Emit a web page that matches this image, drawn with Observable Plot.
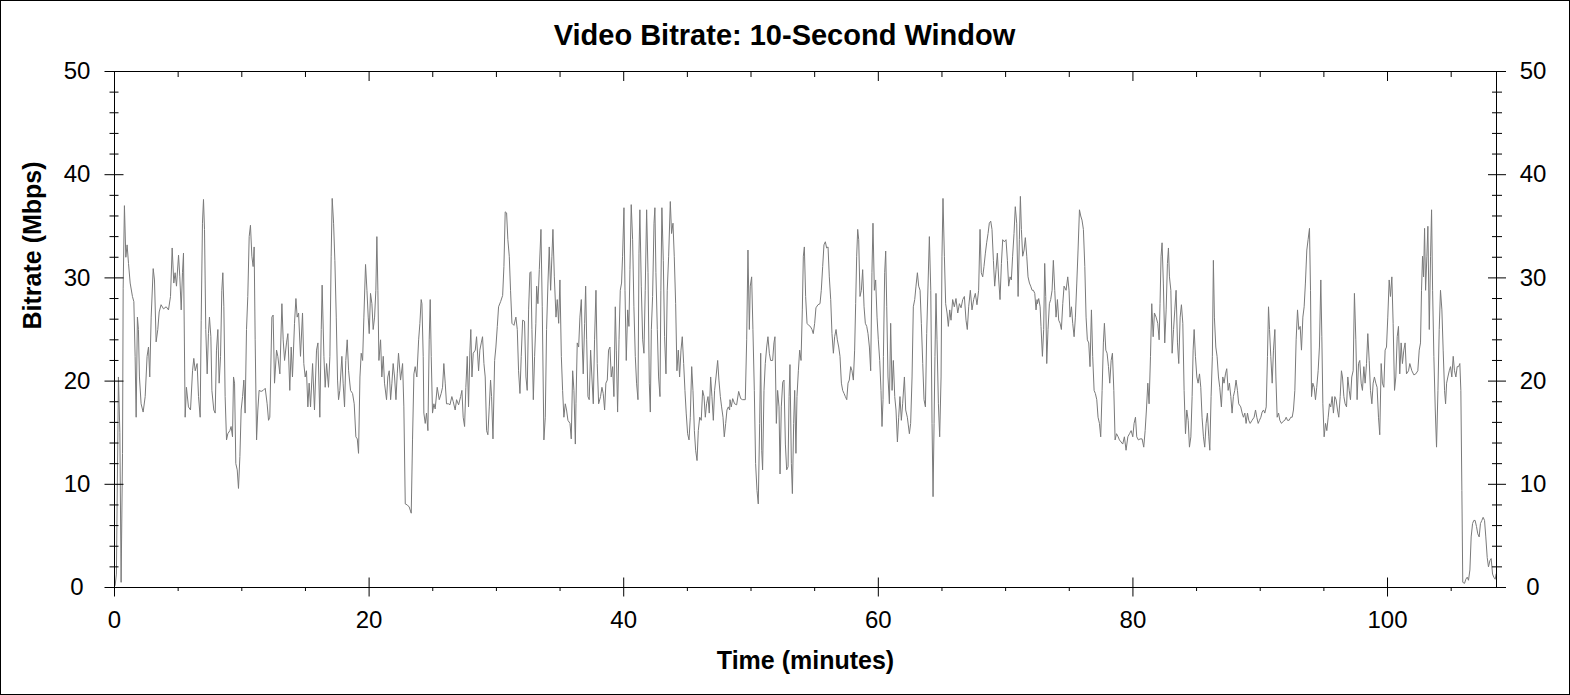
<!DOCTYPE html>
<html><head><meta charset="utf-8">
<script src="https://cdn.jsdelivr.net/npm/d3@7"></script>
<script src="https://cdn.jsdelivr.net/npm/@observablehq/plot@0.6"></script>
<style>
html,body{margin:0;padding:0;background:#fff;}
#frame{width:1570px;height:695px;box-sizing:border-box;border:1px solid #000;overflow:hidden;background:#fff;}
#frame svg{display:block;}
</style></head><body><div id="frame"></div>
<script>
// [minutes, Mbps] samples, in 12-minute blocks
const block1 = [[0.05,0.2],[0.15,1.3],[0.31,20.4],[0.42,15],[0.52,0.5],[0.63,13],[0.68,29],[0.78,37],[0.89,32],[0.99,33.2],[1.10,31.4],[1.23,29.5],[1.41,28.2],[1.52,27.7],[1.62,22.4],[1.70,16.5],[1.80,26.2],[1.88,25],[1.96,20.4],[2.09,17.8],[2.25,17],[2.41,18.5],[2.56,22.4],[2.67,23.3],[2.77,20.4],[2.88,26.2],[3.04,30.9],[3.14,29.8],[3.27,23.8],[3.40,25],[3.51,26.7],[3.66,27.4],[3.85,27],[4.06,27.2],[4.24,26.9],[4.40,28.2],[4.53,32.9],[4.66,29.5],[4.76,30.5],[4.87,29.2],[5.03,32.2],[5.13,30.1],[5.24,26.9],[5.34,30.5],[5.42,32.4],[5.55,16.5],[5.65,19.4],[5.81,17.5],[5.97,17.2],[6.13,21],[6.23,22.2],[6.34,21],[6.49,21.7],[6.60,18.5],[6.73,16.5],[6.81,25.9],[6.91,35.3],[6.99,37.6],[7.07,34.7],[7.17,25],[7.28,20.7],[7.38,24.6],[7.46,26.2],[7.57,24.3],[7.65,19.1],[7.80,17.2],[7.91,16.9],[8.01,23],[8.12,25],[8.22,19.8],[8.33,22.4],[8.43,28.8],[8.51,30.5],[8.59,27.2],[8.69,18.5],[8.80,14.3],[8.90,14.9],[9.06,15.2],[9.16,15.6],[9.27,14.6],[9.35,20.4],[9.43,19.8],[9.53,12],[9.64,11.4],[9.74,9.6],[9.85,12.7],[9.95,17.2],[10.06,18.5],[10.16,20.1],[10.26,16.9],[10.37,25],[10.47,28.2],[10.58,34],[10.68,35.1],[10.79,32.1],[10.89,31.1],[10.97,33],[11.05,24],[11.16,14.3],[11.26,17.2],[11.36,19.1],[11.52,19],[11.68,19.1],[11.84,19.3],[11.99,17.8]];
const block2 = [[12.10,16.2],[12.20,16.5],[12.36,26.2],[12.46,26.4],[12.57,19.8],[12.73,23],[12.83,22.4],[12.99,20.7],[13.15,27.5],[13.25,24],[13.36,22],[13.51,23.7],[13.62,24.6],[13.77,19.1],[13.88,23.3],[13.98,20.4],[14.14,25.6],[14.25,28],[14.35,26.2],[14.46,26.6],[14.61,22.4],[14.77,26.6],[14.87,21.7],[14.98,20.4],[15.08,21],[15.19,17.5],[15.29,19.8],[15.40,17.5],[15.56,21.7],[15.71,17.2],[15.87,23],[15.98,23.7],[16.13,16.5],[16.24,25],[16.31,29.3],[16.45,22.4],[16.55,19.4],[16.66,21.7],[16.81,19.4],[16.92,22.4],[17.02,32.1],[17.10,37.7],[17.21,35.3],[17.31,31.7],[17.42,26.2],[17.52,20.1],[17.60,18.2],[17.70,19.1],[17.86,22.4],[17.96,19.8],[18.07,17.5],[18.17,22],[18.28,24],[18.39,21],[18.54,19.1],[18.70,18.8],[18.83,17.8],[18.96,14.6],[19.07,14.4],[19.17,13],[19.28,20.4],[19.38,22.7],[19.49,22],[19.59,26.2],[19.72,31.3],[19.83,28.8],[19.93,26.2],[20.01,24.6],[20.11,28.5],[20.22,27.5],[20.32,25],[20.43,26.2],[20.53,28.8],[20.61,34],[20.69,28.8],[20.77,22],[20.90,24],[21.00,20.4],[21.11,22.4],[21.21,19.8],[21.37,18.2],[21.47,20.4],[21.58,21],[21.69,18.2],[21.79,19.8],[21.89,21.7],[22.00,20.4],[22.11,18.2],[22.21,20.7],[22.31,22.7],[22.47,20.1],[22.63,21.7],[22.73,17.5],[22.84,8.1],[23.00,8],[23.15,7.8],[23.31,7.2],[23.41,14.3],[23.52,20.7],[23.62,21.4],[23.75,20.4],[23.89,24],[23.99,25.6],[24.09,27.9]];
const block3 = [[24.15,27.5],[24.25,22.4],[24.30,16.9],[24.41,15.9],[24.51,16.9],[24.62,15.2],[24.72,24],[24.80,27.9],[24.88,22.4],[24.98,16.9],[25.09,17.8],[25.19,17.3],[25.35,19.4],[25.51,18.2],[25.66,18.8],[25.77,19.4],[25.87,21.7],[25.98,19.8],[26.08,17.8],[26.24,17.8],[26.35,17.7],[26.50,18.5],[26.61,18],[26.76,17.2],[26.87,18.2],[27.03,17.7],[27.19,18.5],[27.29,19.1],[27.39,16.5],[27.50,15.6],[27.60,19.4],[27.71,22.4],[27.81,17.5],[27.92,23],[27.99,25],[28.08,20.4],[28.18,22.7],[28.34,23],[28.44,24.3],[28.60,21],[28.70,23],[28.81,23.7],[28.91,24.3],[29.02,21.7],[29.12,20.4],[29.23,15.2],[29.33,14.8],[29.44,17.5],[29.54,20.1],[29.62,18.5],[29.73,14.4],[29.86,22],[29.96,23.3],[30.07,25.3],[30.17,27.2],[30.33,27.7],[30.49,28.3],[30.59,31.1],[30.69,36.4],[30.80,36.3],[30.90,33.7],[31.01,32.1],[31.11,28.8],[31.22,25.6],[31.38,25.4],[31.53,26.2],[31.64,25],[31.74,21],[31.85,18.8],[31.95,22.4],[32.06,25.9],[32.21,25.8],[32.32,20.4],[32.42,19.1],[32.53,26.9],[32.63,30.5],[32.71,30.6],[32.79,25],[32.90,18.2],[33.00,22.4],[33.10,25.6],[33.16,29.2],[33.26,27.5],[33.37,30.8],[33.50,34.7],[33.60,27.2],[33.73,14.3],[33.84,16.5],[33.94,25],[34.05,29.5],[34.15,33],[34.26,28.8],[34.36,32.1],[34.44,34.7],[34.55,30.1],[34.68,26.2],[34.78,27.9],[34.89,25.6],[34.99,29.8],[35.10,22.4],[35.20,19.1],[35.30,16.5],[35.41,17.8],[35.51,17.2],[35.62,16.2],[35.78,15.9],[35.88,14.4],[35.99,21],[36.09,19.1],[36.20,13.9]];
const block4 = [[36.25,17.8],[36.35,23.7],[36.46,23.3],[36.56,26.2],[36.67,27.9],[36.75,23.3],[36.82,20.7],[36.93,25.6],[37.01,29.2],[37.09,24],[37.19,18.5],[37.29,18.2],[37.40,23],[37.50,20.4],[37.61,17.8],[37.71,24],[37.82,28.8],[37.92,21.7],[38.03,17.8],[38.18,18.5],[38.29,19.4],[38.39,18.8],[38.50,17.2],[38.60,19.8],[38.71,20.1],[38.81,23],[38.92,23.3],[39.02,20.4],[39.13,21.4],[39.23,18.5],[39.34,27.2],[39.42,23],[39.52,17],[39.63,24],[39.73,28.8],[39.83,29.5],[39.91,32.1],[40.02,36.8],[40.10,28.8],[40.20,22],[40.31,26.9],[40.41,25.3],[40.49,30.8],[40.59,37.1],[40.70,33.7],[40.80,27.2],[40.91,22.4],[41.01,19.8],[41.12,18.2],[41.20,32.4],[41.27,36.6],[41.38,29.2],[41.49,24],[41.59,22.7],[41.69,28.8],[41.80,36.6],[41.91,30.5],[42.01,19.8],[42.09,17],[42.17,25],[42.27,28.2],[42.38,35.3],[42.45,36.8],[42.53,30.5],[42.64,25],[42.74,20.4],[42.85,18.5],[42.92,28.8],[43.00,36.8],[43.11,31.7],[43.21,24.3],[43.32,20.7],[43.42,28.8],[43.53,32.1],[43.66,37.4],[43.76,34.3],[43.87,35.3],[43.97,32.1],[44.08,27.5],[44.18,21],[44.29,23],[44.39,20.4],[44.50,23],[44.60,24.3],[44.71,21.7],[44.81,19.1],[44.91,16.9],[45.02,14.9],[45.13,14.3],[45.23,16.5],[45.34,21.4],[45.44,19.1],[45.55,15.2],[45.65,13.3],[45.76,12.3],[45.86,15.2],[45.97,16.5],[46.09,16.2],[46.20,19.1],[46.31,18.5],[46.41,16.5],[46.51,17.8],[46.62,18.5],[46.72,16.9],[46.83,20.4],[46.93,18.5],[47.04,16.2],[47.14,19.1],[47.25,20.4],[47.38,22],[47.48,20.1],[47.59,18.5],[47.69,17.5],[47.80,16.5],[47.90,14.6],[48.01,15.9],[48.11,17.2],[48.22,17.5],[48.32,17.2]];
const block5 = [[48.35,18.2],[48.45,17.5],[48.56,18.3],[48.71,17.8],[48.87,17.7],[49.03,19],[49.19,18.3],[49.34,18.2],[49.55,18.2],[49.66,24],[49.76,32.7],[49.87,25],[49.94,29.2],[50.05,30.1],[50.15,25],[50.26,19.1],[50.36,12],[50.47,9.4],[50.57,8.1],[50.68,15.9],[50.76,22.7],[50.84,13.3],[50.91,11.4],[51.02,19.1],[51.12,21.7],[51.23,23.3],[51.33,24.3],[51.44,22.7],[51.54,22],[51.70,22],[51.80,23.7],[51.88,24.3],[51.99,15.9],[52.09,19.1],[52.20,17.5],[52.28,11],[52.38,17.5],[52.49,19.9],[52.59,20.1],[52.70,13.9],[52.80,11.4],[52.91,11.7],[52.99,18.5],[53.06,21.6],[53.17,12],[53.25,9.1],[53.35,15.9],[53.43,19.1],[53.53,13],[53.61,18.5],[53.72,21],[53.82,23],[53.93,22],[54.03,26.9],[54.11,32.1],[54.19,33],[54.29,28.2],[54.40,25.6],[54.53,25.4],[54.66,25.3],[54.79,25],[54.89,24.6],[55.00,25.6],[55.10,27.1],[55.26,27.4],[55.42,27.5],[55.52,28.8],[55.63,31.1],[55.73,33.2],[55.84,33.5],[55.94,32.9],[56.05,33],[56.15,30.1],[56.26,27.9],[56.36,24.6],[56.47,22.7],[56.57,24.3],[56.68,25],[56.78,24],[56.89,23.3],[56.99,22.4],[57.10,19.8],[57.20,19.1],[57.31,18.8],[57.41,18.5],[57.52,18.2],[57.62,19.8],[57.72,20.1],[57.83,21.4],[57.93,21],[58.04,20.1],[58.14,23],[58.22,27.5],[58.30,32.1],[58.38,34.7],[58.46,33.7],[58.56,28.2],[58.67,28.8],[58.77,30.8],[58.88,27.2],[58.98,25.6],[59.09,25.3],[59.19,24.6],[59.30,23.3],[59.40,21],[59.50,30.5],[59.58,35.3],[59.69,28.8],[59.79,29.8],[59.90,26.2],[60.00,24],[60.11,22],[60.21,19.1],[60.29,15.6],[60.37,18.2]];
const block6 = [[60.40,22.4],[60.50,30.5],[60.58,32.6],[60.66,27.2],[60.76,20.4],[60.87,17.8],[60.97,25.6],[61.08,19.1],[61.18,22],[61.29,18.5],[61.39,17.2],[61.50,14.1],[61.60,16.5],[61.70,18.5],[61.81,16.2],[61.91,17.8],[62.05,20.4],[62.15,17.2],[62.28,16.5],[62.44,14.9],[62.54,15.9],[62.65,20.4],[62.75,27.2],[62.86,27.9],[62.96,29.2],[63.07,30.5],[63.17,29.2],[63.28,28.8],[63.38,25.6],[63.49,21.7],[63.59,18.2],[63.70,17.5],[63.80,24.6],[63.91,29.5],[64.01,34],[64.12,28.8],[64.22,15.9],[64.30,8.8],[64.38,15.9],[64.45,22.4],[64.53,28.5],[64.61,24],[64.72,17.8],[64.82,14.6],[64.93,20.4],[65.00,32.1],[65.08,37.7],[65.19,32.1],[65.29,27.5],[65.40,26.6],[65.50,25.3],[65.61,26.9],[65.71,25.9],[65.84,27.9],[65.97,27.2],[66.10,28],[66.24,26.6],[66.37,27.5],[66.50,27.1],[66.63,27.9],[66.76,28.2],[66.89,25.9],[66.99,25],[67.10,27.2],[67.23,28.8],[67.36,26.9],[67.49,27.9],[67.62,28.5],[67.75,27.4],[67.88,28.8],[67.99,34.7],[68.09,30.5],[68.20,30.1],[68.30,31.1],[68.41,32.4],[68.51,33.4],[68.62,34.3],[68.72,35.3],[68.83,35.5],[68.93,34.7],[69.04,31.7],[69.14,29.2],[69.25,30.8],[69.35,32.4],[69.46,29.8],[69.56,27.9],[69.67,31.4],[69.77,33.7],[69.90,33.5],[70.03,33.7],[70.14,31.7],[70.24,29.2],[70.35,30.1],[70.45,29.8],[70.55,32.1],[70.66,34.3],[70.76,36.9],[70.87,35.3],[70.98,28.2],[71.08,33.7],[71.16,37.9],[71.24,34.7],[71.34,32.1],[71.45,32.7],[71.55,33.9],[71.66,32.1],[71.76,30.1],[71.87,29.5],[71.97,29.2],[72.08,28.8],[72.18,28.8],[72.29,28.5],[72.39,26.9],[72.47,27.9]];
const block7 = [[72.50,27.5],[72.60,28],[72.71,27.2],[72.78,25.3],[72.89,22.4],[72.99,25],[73.07,31.4],[73.15,28.2],[73.23,21.7],[73.33,25],[73.44,27.5],[73.54,27.9],[73.65,28.8],[73.75,31.7],[73.86,28.8],[73.96,26.2],[74.07,27.9],[74.17,25.9],[74.28,25.6],[74.38,25],[74.49,27.5],[74.59,29.2],[74.75,28.8],[74.88,30.1],[74.98,28.8],[75.06,26.2],[75.17,27.2],[75.27,25.6],[75.38,24.3],[75.48,26.2],[75.59,29.5],[75.69,32.7],[75.80,36.6],[75.90,36],[76.00,35.6],[76.11,34.7],[76.22,31.1],[76.32,26.2],[76.42,24],[76.53,23.7],[76.63,21.4],[76.74,26.9],[76.84,22.4],[76.95,19.1],[77.05,18.8],[77.16,18.2],[77.26,16.5],[77.37,15.9],[77.47,14.6],[77.58,19.1],[77.68,23.7],[77.76,25.6],[77.87,23],[77.97,22.7],[78.08,21.4],[78.18,19.8],[78.29,22],[78.39,22.7],[78.50,19.1],[78.60,14.3],[78.71,14.9],[78.84,14.6],[78.94,14.3],[79.07,14.1],[79.20,13.9],[79.33,14.6],[79.46,13.3],[79.60,14.6],[79.73,14.9],[79.86,15.2],[79.99,14.6],[80.09,15.9],[80.20,16.5],[80.30,14.6],[80.43,14.3],[80.56,14.4],[80.72,14.4],[80.85,13.6],[80.96,15.2],[81.06,17.2],[81.17,19.8],[81.27,17.8],[81.38,22.4],[81.48,27.5],[81.59,24.3],[81.69,26.6],[81.82,26.2],[81.95,25.6],[82.06,24],[82.13,27.5],[82.21,32.1],[82.29,33.4],[82.39,29.5],[82.50,23.7],[82.61,26.9],[82.71,31.4],[82.79,32.9],[82.87,30.1],[82.98,28.8],[83.08,22.7],[83.19,25],[83.29,26.9],[83.39,28.8],[83.50,23.7],[83.60,21.7],[83.71,26.2],[83.81,27.4],[83.92,25.6],[84.02,19.1],[84.13,14.9],[84.23,17.2],[84.34,16.2],[84.44,13.6],[84.55,14.6]];
const block8 = [[84.65,18.5],[84.73,23],[84.81,25],[84.91,22.4],[85.02,20.4],[85.12,19.8],[85.23,20.7],[85.33,19.4],[85.43,16.5],[85.54,14.6],[85.64,13.6],[85.75,15.9],[85.85,16.9],[85.96,14.6],[86.04,13.3],[86.14,18.5],[86.24,22.4],[86.32,31.7],[86.40,26.2],[86.51,23.3],[86.61,22.4],[86.72,20.4],[86.82,19.4],[86.95,17.5],[87.06,20.4],[87.16,19.8],[87.27,20.7],[87.37,21.2],[87.48,19.1],[87.58,19.8],[87.69,18.5],[87.79,16.9],[87.89,18.5],[88.00,19.1],[88.10,20.1],[88.21,19.1],[88.31,17.8],[88.47,17.5],[88.58,16.9],[88.68,16.5],[88.79,16.9],[88.89,15.9],[89.00,16.9],[89.10,16.2],[89.21,15.9],[89.36,16.2],[89.52,16.5],[89.63,17.2],[89.73,16.5],[89.84,15.9],[89.94,16.2],[90.05,16.5],[90.15,17],[90.26,17.2],[90.36,16.9],[90.47,17.5],[90.57,22.4],[90.65,27.2],[90.73,25],[90.83,22.4],[90.94,19.8],[91.04,23],[91.15,25],[91.23,20.4],[91.33,16.5],[91.44,16.9],[91.54,16.2],[91.67,15.9],[91.80,16.1],[91.93,16.2],[92.04,16.5],[92.14,16.2],[92.27,16.2],[92.40,16.5],[92.51,16.5],[92.61,17.2],[92.72,19.1],[92.82,24],[92.93,26.9],[93.03,25],[93.14,25.3],[93.24,23],[93.35,26.2],[93.45,27.2],[93.55,29.5],[93.66,32.7],[93.76,33.7],[93.87,34.8],[93.95,28.8],[94.03,18.5],[94.13,19.8],[94.24,19.4],[94.34,18.2],[94.44,19.4],[94.55,21],[94.65,23.3],[94.76,29.8],[94.84,24.3],[94.92,17.8],[95.02,14.6],[95.13,15.9],[95.23,15.2],[95.34,16.5],[95.44,17.8],[95.54,17.5],[95.65,18.5],[95.75,16.9],[95.86,18.5],[95.96,18.2],[96.07,17.2],[96.17,16.5],[96.28,18.5],[96.38,21],[96.46,20.4],[96.57,18.5],[96.67,17.8]];
const block9 = [[96.78,17.5],[96.88,20.4],[96.99,19.1],[97.09,18.2],[97.19,20.4],[97.30,21],[97.40,28.5],[97.51,24],[97.61,18.2],[97.72,21.7],[97.82,22],[97.93,19.8],[98.03,19.1],[98.14,21.4],[98.24,19.8],[98.35,21.7],[98.45,24.6],[98.56,22],[98.66,19.1],[98.77,17.8],[98.87,19.8],[98.97,20.4],[99.08,19.8],[99.18,19.4],[99.29,16.5],[99.39,14.8],[99.50,21.7],[99.60,19.8],[99.71,19.4],[99.81,23],[99.92,23.3],[100.02,26.2],[100.13,29.8],[100.23,28.2],[100.34,30.1],[100.44,25.6],[100.55,19.1],[100.65,20.4],[100.76,24.3],[100.86,25.3],[100.96,20.7],[101.07,23.7],[101.17,21.7],[101.28,23],[101.38,23.7],[101.49,20.7],[101.65,21],[101.75,21.7],[101.91,21],[102.07,20.6],[102.22,20.7],[102.38,21],[102.49,23],[102.59,23.7],[102.67,28.8],[102.75,32.1],[102.83,30.1],[102.91,34.8],[102.99,28.8],[103.09,32.1],[103.17,35],[103.28,25],[103.38,32.1],[103.46,36.6],[103.54,28.8],[103.64,22.4],[103.75,17.2],[103.85,13.6],[103.96,19.1],[104.06,25],[104.16,28.8],[104.27,26.9],[104.37,23],[104.48,19.1],[104.56,17.8],[104.64,19.8],[104.74,20.4],[104.85,21],[104.95,21.4],[105.05,20.4],[105.16,22.4],[105.26,21],[105.37,20.4],[105.47,21.4],[105.58,21.4],[105.68,21.7],[105.76,19.1],[105.84,9.4],[105.91,0.5],[106.05,0.4],[106.15,0.8],[106.26,1],[106.36,0.7],[106.47,1.7],[106.57,4.9],[106.68,6.2],[106.78,6.5],[106.88,6.5],[106.99,5.9],[107.09,5.2],[107.20,4.9],[107.30,6.2],[107.41,6.5],[107.51,6.8],[107.62,6.5],[107.72,4.9],[107.83,2.9],[107.93,2],[108.04,2.6],[108.14,2.8],[108.25,1.3],[108.35,1],[108.46,0.8],[108.53,1.3]];

const titleText = "Video Bitrate: 10-Second Window";
const xTitle = "Time (minutes)";
const yTitle = "Bitrate (Mbps)";
const yMajor = [0, 10, 20, 30, 40, 50];
const yMinor = [2, 4, 6, 8, 12, 14, 16, 18, 22, 24, 26, 28, 32, 34, 36, 38, 42, 44, 46, 48];
const xMajor = [0, 20, 40, 60, 80, 100];
const xMinor = [5, 10, 15, 25, 30, 35, 45, 50, 55, 65, 70, 75, 85, 90, 95, 105];
const xDomain = [0, 108.56];
const yDomain = [0, 50];

const samples = [block1, block2, block3, block4, block5, block6, block7, block8, block9]
  .flat()
  .map(([t, v]) => ({t, v}));

const ink = "#000";
const font = "'Liberation Sans', Arial, Helvetica, sans-serif";

const chart = Plot.plot({
  width: 1568,
  height: 693,
  marginLeft: 113,
  marginRight: 73,
  marginTop: 70,
  marginBottom: 107,
  style: {fontFamily: font, background: "#fff", color: ink, overflow: "visible"},
  x: {domain: xDomain},
  y: {domain: yDomain},
  marks: [
    Plot.line(samples, {x: "t", y: "v", stroke: "#7a7a7a", strokeWidth: 1}),
    Plot.frame({stroke: ink}),
    // left axis ticks
    Plot.axisY({ticks: yMajor, anchor: "left", tickSize: 19, dx: 9.5, fill: "none", stroke: ink}),
    Plot.axisY({ticks: yMinor, anchor: "left", tickSize: 9, dx: 4.5, fill: "none", stroke: ink}),
    // right axis ticks
    Plot.axisY({ticks: yMajor, anchor: "right", tickSize: 18, dx: -9, fill: "none", stroke: ink}),
    Plot.axisY({ticks: yMinor, anchor: "right", tickSize: 10, dx: -5, fill: "none", stroke: ink}),
    // bottom axis ticks
    Plot.axisX({ticks: xMajor, anchor: "bottom", tickSize: 19, dy: -9.5, fill: "none", stroke: ink}),
    Plot.axisX({ticks: xMinor, anchor: "bottom", tickSize: 4, fill: "none", stroke: ink}),
    // top axis ticks (pointing inward)
    Plot.axisX({ticks: xMajor, anchor: "top", tickSize: 9, dy: 9, fill: "none", stroke: ink}),
    Plot.axisX({ticks: xMinor, anchor: "top", tickSize: 5, dy: 5, fill: "none", stroke: ink}),
    // tick labels
    Plot.axisY({ticks: yMajor, anchor: "left", tickSize: 0, tickPadding: 37.5, textAnchor: "middle", fontSize: 24, fill: ink, label: null}),
    Plot.axisY({ticks: yMajor, anchor: "right", tickSize: 0, tickPadding: 36.5, textAnchor: "middle", fontSize: 24, fill: ink, label: null}),
    Plot.axisX({ticks: xMajor, anchor: "bottom", tickSize: 0, tickPadding: 23.5, fontSize: 24, fill: ink, label: null}),
    // titles
    Plot.text([titleText], {frameAnchor: "top", dx: -21, dy: -36, fontSize: 29, fontWeight: "bold", lineAnchor: "middle", fill: ink}),
    Plot.text([xTitle], {frameAnchor: "bottom", dy: 73, fontSize: 25, fontWeight: "bold", lineAnchor: "middle", fill: ink}),
    Plot.text([yTitle], {frameAnchor: "left", dx: -82, rotate: -90, fontSize: 25, fontWeight: "bold", lineAnchor: "middle", fill: ink})
  ]
});

document.getElementById("frame").appendChild(chart);
</script>
</body></html>
